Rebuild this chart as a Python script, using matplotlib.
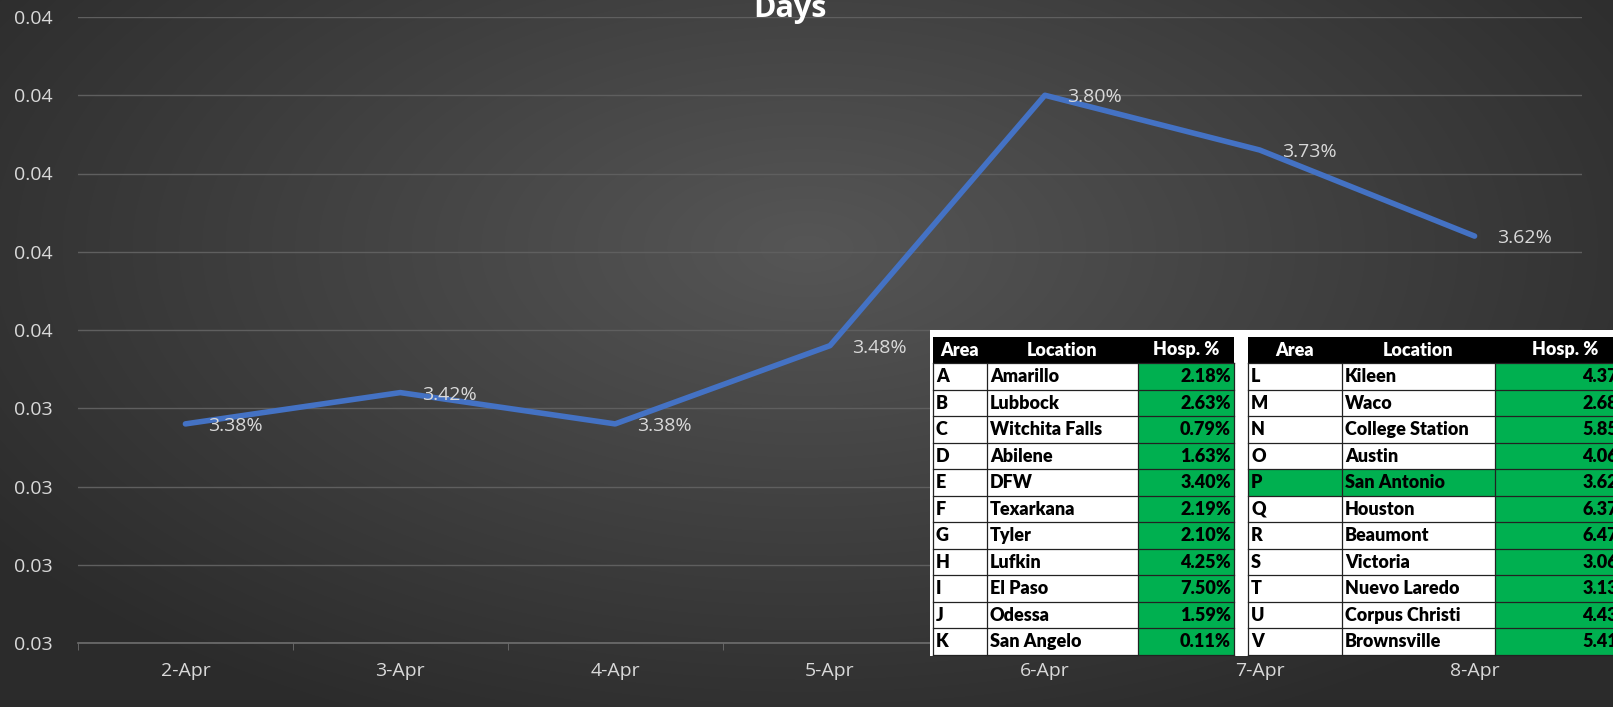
import numpy as np
import matplotlib
matplotlib.use("Agg")
import matplotlib.pyplot as plt
from matplotlib.patches import Rectangle

# ---------------- data ----------------
dates = ["2-Apr", "3-Apr", "4-Apr", "5-Apr", "6-Apr", "7-Apr", "8-Apr"]
rates = [0.0338, 0.0342, 0.0338, 0.0348, 0.0380, 0.0373, 0.0362]
y_ticks = [0.031, 0.032, 0.033, 0.034, 0.035, 0.036, 0.037, 0.038, 0.039]
y_tick_labels = ["0.03", "0.03", "0.03", "0.03", "0.04", "0.04", "0.04", "0.04", "0.04"]
title_text = "Days"

table_header = ["Area", "Location", "Hosp. %"]
areas_left = ["A", "B", "C", "D", "E", "F", "G", "H", "I", "J", "K"]
locations_left = ["Amarillo", "Lubbock", "Witchita Falls", "Abilene", "DFW", "Texarkana",
                  "Tyler", "Lufkin", "El Paso", "Odessa", "San Angelo"]
hosp_left = ["2.18%", "2.63%", "0.79%", "1.63%", "3.40%", "2.19%", "2.10%", "4.25%",
             "7.50%", "1.59%", "0.11%"]
areas_right = ["L", "M", "N", "O", "P", "Q", "R", "S", "T", "U", "V"]
locations_right = ["Kileen", "Waco", "College Station", "Austin", "San Antonio", "Houston",
                   "Beaumont", "Victoria", "Nuevo Laredo", "Corpus Christi", "Brownsville"]
hosp_right = ["4.37%", "2.68%", "5.85%", "4.06%", "3.62%", "6.37%", "6.47%", "3.06%",
              "3.13%", "4.43%", "5.41%"]
highlight_right = "San Antonio"

# ---------------- figure ----------------
W, H = 1613, 707
fig = plt.figure(figsize=(W / 100, H / 100), dpi=100)

# background radial gradient
bg = fig.add_axes([0, 0, 1, 1], zorder=-10)
yy, xx = np.mgrid[0:H, 0:W]
cx, cy = 0.5 * W, 0.35 * H
r = np.sqrt(((xx - cx) / (0.62 * W)) ** 2 + ((yy - cy) / (0.75 * H)) ** 2)
r = np.clip(r, 0, 1)
inner = np.array([0x56, 0x56, 0x56]) / 255
outer = np.array([0x2b, 0x2b, 0x2b]) / 255
img = inner[None, None, :] * (1 - r[..., None]) + outer[None, None, :] * r[..., None]
bg.imshow(img, aspect="auto", extent=[0, W, H, 0])
bg.set_xlim(0, W)
bg.set_ylim(H, 0)
bg.axis("off")

# main axes
ax_l, ax_r, ax_t, ax_b = 78, 1582, 17, 643
ax = fig.add_axes([ax_l / W, 1 - ax_b / H, (ax_r - ax_l) / W, (ax_b - ax_t) / H])
ax.set_facecolor("none")
x = np.arange(len(dates))
ax.plot(x, rates, color="#4472C4", lw=4.0, solid_joinstyle="round", solid_capstyle="round", zorder=3)
ax.set_xlim(-0.5, len(dates) - 0.5)
ax.set_ylim(y_ticks[0], y_ticks[-1])

tick_font = dict(family=["Open Sans", "DejaVu Sans"], size=14, color="#d9d9d9")
ax.set_yticks(y_ticks)
ax.set_yticklabels(y_tick_labels, **tick_font)
ax.set_xticks(x)
ax.set_xticklabels(dates, **tick_font)
ax.set_xticks(np.arange(-0.5, len(dates)), minor=True)
ax.tick_params(axis="y", length=0, pad=18)
ax.tick_params(axis="x", which="major", length=0, pad=14)
ax.tick_params(axis="x", which="minor", length=5, color="#6e6e6e", direction="out")
ax.grid(axis="y", color="#5f5f5f", lw=1)
for s in ["left", "right", "top"]:
    ax.spines[s].set_visible(False)
ax.spines["bottom"].set_color("#6e6e6e")
ax.spines["bottom"].set_linewidth(1.2)

for xi, v in zip(x, rates):
    ax.annotate(f"{v * 100:.2f}%", (xi, v), xytext=(16, -1.5), textcoords="offset points",
                ha="left", va="center", **tick_font, zorder=4)

# cut-off title
fig.text(790 / W, 1 - 17 / H, title_text, ha="center", va="baseline",
         family=["Open Sans", "DejaVu Sans"], weight="bold", size=22, color="white")

# ---------------- table overlay ----------------
ov = fig.add_axes([0, 0, 1, 1], zorder=10)
ov.set_xlim(0, W)
ov.set_ylim(H, 0)
ov.axis("off")
ov.add_patch(Rectangle((930, 330), W - 930, 326, facecolor="white", edgecolor="none"))

green = "#00B050"
hdr_top, hdr_h, row_h = 337, 26, 26.5
tfont = dict(family=["Lato", "DejaVu Sans"], weight="heavy", size=13)


def draw_table(cols, areas, locs, hosp, highlight=None):
    x0, x1, x2, x3 = cols
    n = len(areas)
    # header
    ov.add_patch(Rectangle((x0, hdr_top), x3 - x0, hdr_h, facecolor="black", edgecolor="none"))
    hy = hdr_top + hdr_h / 2
    ov.text((x0 + x1) / 2, hy, table_header[0], ha="center", va="center", color="white", **tfont)
    ov.text((x1 + x2) / 2, hy, table_header[1], ha="center", va="center", color="white", **tfont)
    ov.text((x2 + x3) / 2, hy, table_header[2], ha="center", va="center", color="white", **tfont)
    top = hdr_top + hdr_h
    for i in range(n):
        y0 = top + i * row_h
        hl = highlight is not None and locs[i] == highlight
        if hl:
            ov.add_patch(Rectangle((x0, y0), x3 - x0, row_h, facecolor=green, edgecolor="none"))
        else:
            ov.add_patch(Rectangle((x2, y0), x3 - x2, row_h, facecolor=green, edgecolor="none"))
        yc = y0 + row_h / 2 + 0.5
        ov.text(x0 + 3, yc, areas[i], ha="left", va="center", color="black", **tfont)
        ov.text(x1 + 3, yc, locs[i], ha="left", va="center", color="black", **tfont)
        ov.text(x3 - 3, yc, hosp[i], ha="right", va="center", color="black", **tfont)
        ov.plot([x0, x3], [y0, y0], color="#222222", lw=0.9)
    bottom = top + n * row_h
    ov.plot([x0, x3], [bottom, bottom], color="#222222", lw=0.9)
    for xv in (x0, x1, x2, x3):
        ov.plot([xv, xv], [top, bottom], color="#222222", lw=0.9)


draw_table((933, 987, 1138, 1234), areas_left, locations_left, hosp_left)
draw_table((1248, 1342, 1495, 1636), areas_right, locations_right, hosp_right, highlight_right)

fig.savefig("out.png", dpi=100)
